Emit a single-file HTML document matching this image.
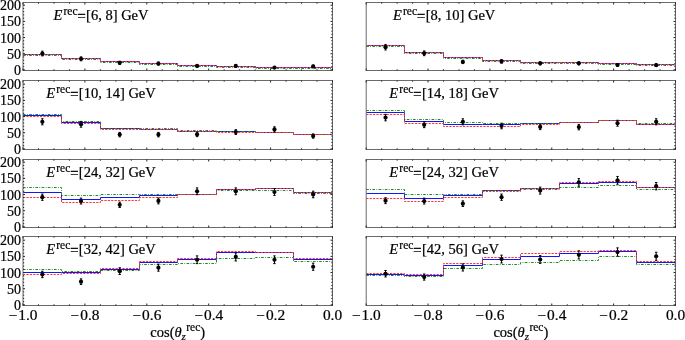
<!DOCTYPE html>
<html><head><meta charset="utf-8"><style>
html,body{margin:0;padding:0;background:#fff;width:685px;height:340px;overflow:hidden}
svg text{font-family:"Liberation Serif",serif;fill:#000;stroke:#000;stroke-width:0.22px}
svg{will-change:transform}
</style></head><body><svg width="685" height="340" viewBox="0 0 685 340" style="display:block;font-family:'Liberation Serif',serif"><path d="M23,54.5H61.5V58.5H100.5V61.5H139.5V63.5H177.5V65.5H216.5V66.5H255.5V67.5H293.5V67.5H332.5" fill="none" stroke="#1414ff" stroke-width="1"/><path d="M23,55.5H61.5V59.5H100.5V62.5H139.5V64.5H177.5V66.5H216.5V67.5H255.5V68.5H293.5V68.5H332.5" fill="none" stroke="#1e8c1e" stroke-width="1" stroke-dasharray="2.6,1.4,0.8,1.4"/><path d="M23,54.5H61.5V58.5H100.5V61.5H139.5V63.5H177.5V65.5H216.5V66.5H255.5V67.5H293.5V67.5H332.5" fill="none" stroke="#ff3535" stroke-width="1" stroke-dasharray="2.2,1.2"/><path d="M42.34,51.19V55.88M41.14,51.19H43.54M41.14,55.88H43.54" stroke="#000" stroke-width="1" fill="none"/><circle cx="42.34" cy="53.53" r="2.1" fill="#000"/><path d="M81.03,56.9V60.79M79.83,56.9H82.23M79.83,60.79H82.23" stroke="#000" stroke-width="1" fill="none"/><circle cx="81.03" cy="58.84" r="2.1" fill="#000"/><path d="M119.72,61.29V64.43M118.52,61.29H120.92M118.52,64.43H120.92" stroke="#000" stroke-width="1" fill="none"/><circle cx="119.72" cy="62.86" r="2.1" fill="#000"/><path d="M158.41,62.07V65.07M157.21,62.07H159.61M157.21,65.07H159.61" stroke="#000" stroke-width="1" fill="none"/><circle cx="158.41" cy="63.57" r="2.1" fill="#000"/><path d="M197.09,64.76V67.18M195.89,64.76H198.29M195.89,67.18H198.29" stroke="#000" stroke-width="1" fill="none"/><circle cx="197.09" cy="65.97" r="2.1" fill="#000"/><path d="M235.78,64.76V67.18M234.58,64.76H236.98M234.58,67.18H236.98" stroke="#000" stroke-width="1" fill="none"/><circle cx="235.78" cy="65.97" r="2.1" fill="#000"/><path d="M274.47,66.61V68.56M273.27,66.61H275.67M273.27,68.56H275.67" stroke="#000" stroke-width="1" fill="none"/><circle cx="274.47" cy="67.59" r="2.1" fill="#000"/><path d="M313.16,65.23V67.54M311.96,65.23H314.36M311.96,67.54H314.36" stroke="#000" stroke-width="1" fill="none"/><circle cx="313.16" cy="66.39" r="2.1" fill="#000"/><rect x="23" y="2.5" width="309.5" height="68" fill="none" stroke="#6a6a6a" stroke-width="1"/><path d="M23,69.9h2M332.5,69.9h-2M23,66.67h1.2M332.5,66.67h-1.2M23,63.43h1.2M332.5,63.43h-1.2M23,60.2h1.2M332.5,60.2h-1.2M23,56.96h1.2M332.5,56.96h-1.2M23,53.73h2M332.5,53.73h-2M23,50.49h1.2M332.5,50.49h-1.2M23,47.26h1.2M332.5,47.26h-1.2M23,44.02h1.2M332.5,44.02h-1.2M23,40.79h1.2M332.5,40.79h-1.2M23,37.55h2M332.5,37.55h-2M23,34.32h1.2M332.5,34.32h-1.2M23,31.08h1.2M332.5,31.08h-1.2M23,27.85h1.2M332.5,27.85h-1.2M23,24.61h1.2M332.5,24.61h-1.2M23,21.38h2M332.5,21.38h-2M23,18.14h1.2M332.5,18.14h-1.2M23,14.91h1.2M332.5,14.91h-1.2M23,11.67h1.2M332.5,11.67h-1.2M23,8.44h1.2M332.5,8.44h-1.2M23,5.2h2M332.5,5.2h-2M23,70.5v-2M23,2.5v2M38.48,70.5v-1.2M38.48,2.5v1.2M53.95,70.5v-1.2M53.95,2.5v1.2M69.43,70.5v-1.2M69.43,2.5v1.2M84.9,70.5v-2M84.9,2.5v2M100.38,70.5v-1.2M100.38,2.5v1.2M115.85,70.5v-1.2M115.85,2.5v1.2M131.33,70.5v-1.2M131.33,2.5v1.2M146.8,70.5v-2M146.8,2.5v2M162.27,70.5v-1.2M162.27,2.5v1.2M177.75,70.5v-1.2M177.75,2.5v1.2M193.23,70.5v-1.2M193.23,2.5v1.2M208.7,70.5v-2M208.7,2.5v2M224.18,70.5v-1.2M224.18,2.5v1.2M239.65,70.5v-1.2M239.65,2.5v1.2M255.12,70.5v-1.2M255.12,2.5v1.2M270.6,70.5v-2M270.6,2.5v2M286.08,70.5v-1.2M286.08,2.5v1.2M301.55,70.5v-1.2M301.55,2.5v1.2M317.03,70.5v-1.2M317.03,2.5v1.2M332.5,70.5v-2M332.5,2.5v2" stroke="#222" stroke-width="1" fill="none"/><text x="21" y="74.9" text-anchor="end" font-size="14">0</text><text x="21" y="58.73" text-anchor="end" font-size="14">50</text><text x="21" y="42.55" text-anchor="end" font-size="14">100</text><text x="21" y="26.38" text-anchor="end" font-size="14">150</text><text x="21" y="10.2" text-anchor="end" font-size="14">200</text><text x="100.97" y="19.9" text-anchor="middle" font-size="14.5"><tspan font-style="italic">E</tspan><tspan font-size="11.5" dy="-4.6" dx="1.2">rec</tspan><tspan dy="5.9" dx="-0.1" stroke-width="0.45">=</tspan><tspan dx="0.5" dy="-1.3">[6, 8] GeV</tspan></text><path d="M366.2,45.5H404.5V52.5H443.5V57.5H482.5V60.5H520.5V62.5H559.5V62.5H598.5V63.5H636.5V64.5H675.5" fill="none" stroke="#1414ff" stroke-width="1"/><path d="M366.2,46.5H404.5V53.5H443.5V58.5H482.5V61.5H520.5V63.5H559.5V63.5H598.5V64.5H636.5V65.5H675.5" fill="none" stroke="#1e8c1e" stroke-width="1" stroke-dasharray="2.6,1.4,0.8,1.4"/><path d="M366.2,45.5H404.5V52.5H443.5V57.5H482.5V60.5H520.5V62.5H559.5V62.5H598.5V63.5H636.5V64.5H675.5" fill="none" stroke="#ff3535" stroke-width="1" stroke-dasharray="2.2,1.2"/><path d="M385.53,44.44V49.93M384.33,44.44H386.73M384.33,49.93H386.73" stroke="#000" stroke-width="1" fill="none"/><circle cx="385.53" cy="47.19" r="2.1" fill="#000"/><path d="M424.19,50.95V55.67M422.99,50.95H425.39M422.99,55.67H425.39" stroke="#000" stroke-width="1" fill="none"/><circle cx="424.19" cy="53.31" r="2.1" fill="#000"/><path d="M462.86,60.25V63.59M461.66,60.25H464.06M461.66,63.59H464.06" stroke="#000" stroke-width="1" fill="none"/><circle cx="462.86" cy="61.92" r="2.1" fill="#000"/><path d="M501.52,59.72V63.15M500.32,59.72H502.72M500.32,63.15H502.72" stroke="#000" stroke-width="1" fill="none"/><circle cx="501.52" cy="61.43" r="2.1" fill="#000"/><path d="M540.18,61.79V64.84M538.98,61.79H541.38M538.98,64.84H541.38" stroke="#000" stroke-width="1" fill="none"/><circle cx="540.18" cy="63.31" r="2.1" fill="#000"/><path d="M578.84,61.79V64.84M577.64,61.79H580.04M577.64,64.84H580.04" stroke="#000" stroke-width="1" fill="none"/><circle cx="578.84" cy="63.31" r="2.1" fill="#000"/><path d="M617.51,63.66V66.33M616.31,63.66H618.71M616.31,66.33H618.71" stroke="#000" stroke-width="1" fill="none"/><circle cx="617.51" cy="65" r="2.1" fill="#000"/><path d="M656.17,63.88V66.5M654.97,63.88H657.37M654.97,66.5H657.37" stroke="#000" stroke-width="1" fill="none"/><circle cx="656.17" cy="65.19" r="2.1" fill="#000"/><rect x="366.2" y="2.5" width="309.3" height="68" fill="none" stroke="#6a6a6a" stroke-width="1"/><path d="M675.5,69.9h-2M675.5,66.67h-1.2M675.5,63.43h-1.2M675.5,60.2h-1.2M675.5,56.96h-1.2M675.5,53.73h-2M675.5,50.49h-1.2M675.5,47.26h-1.2M675.5,44.02h-1.2M675.5,40.79h-1.2M675.5,37.55h-2M675.5,34.32h-1.2M675.5,31.08h-1.2M675.5,27.85h-1.2M675.5,24.61h-1.2M675.5,21.38h-2M675.5,18.14h-1.2M675.5,14.91h-1.2M675.5,11.67h-1.2M675.5,8.44h-1.2M675.5,5.2h-2M366.2,70.5v-2M366.2,2.5v2M381.67,70.5v-1.2M381.67,2.5v1.2M397.13,70.5v-1.2M397.13,2.5v1.2M412.6,70.5v-1.2M412.6,2.5v1.2M428.06,70.5v-2M428.06,2.5v2M443.52,70.5v-1.2M443.52,2.5v1.2M458.99,70.5v-1.2M458.99,2.5v1.2M474.46,70.5v-1.2M474.46,2.5v1.2M489.92,70.5v-2M489.92,2.5v2M505.38,70.5v-1.2M505.38,2.5v1.2M520.85,70.5v-1.2M520.85,2.5v1.2M536.32,70.5v-1.2M536.32,2.5v1.2M551.78,70.5v-2M551.78,2.5v2M567.25,70.5v-1.2M567.25,2.5v1.2M582.71,70.5v-1.2M582.71,2.5v1.2M598.17,70.5v-1.2M598.17,2.5v1.2M613.64,70.5v-2M613.64,2.5v2M629.11,70.5v-1.2M629.11,2.5v1.2M644.57,70.5v-1.2M644.57,2.5v1.2M660.04,70.5v-1.2M660.04,2.5v1.2M675.5,70.5v-2M675.5,2.5v2" stroke="#222" stroke-width="1" fill="none"/><text x="444.12" y="19.9" text-anchor="middle" font-size="14.5"><tspan font-style="italic">E</tspan><tspan font-size="11.5" dy="-4.6" dx="1.2">rec</tspan><tspan dy="5.9" dx="-0.1" stroke-width="0.45">=</tspan><tspan dx="0.5" dy="-1.3">[8, 10] GeV</tspan></text><path d="M23,115.5H61.5V122.5H100.5V128.5H139.5V129.5H177.5V131.5H216.5V131.5H255.5V132.5H293.5V134.5H332.5" fill="none" stroke="#1414ff" stroke-width="1"/><path d="M23,114.5H61.5V121.5H100.5V128.5H139.5V128.5H177.5V130.5H216.5V131.5H255.5V132.5H293.5V134.5H332.5" fill="none" stroke="#1e8c1e" stroke-width="1" stroke-dasharray="2.6,1.4,0.8,1.4"/><path d="M23,116.5H61.5V123.5H100.5V129.5H139.5V129.5H177.5V131.5H216.5V132.5H255.5V132.5H293.5V134.5H332.5" fill="none" stroke="#ff3535" stroke-width="1" stroke-dasharray="2.2,1.2"/><path d="M42.34,118.78V124.82M41.14,118.78H43.54M41.14,124.82H43.54" stroke="#000" stroke-width="1" fill="none"/><circle cx="42.34" cy="121.8" r="2.1" fill="#000"/><path d="M81.03,121.42V127.18M79.83,121.42H82.23M79.83,127.18H82.23" stroke="#000" stroke-width="1" fill="none"/><circle cx="81.03" cy="124.3" r="2.1" fill="#000"/><path d="M119.72,132.4V136.83M118.52,132.4H120.92M118.52,136.83H120.92" stroke="#000" stroke-width="1" fill="none"/><circle cx="119.72" cy="134.62" r="2.1" fill="#000"/><path d="M158.41,132.4V136.83M157.21,132.4H159.61M157.21,136.83H159.61" stroke="#000" stroke-width="1" fill="none"/><circle cx="158.41" cy="134.62" r="2.1" fill="#000"/><path d="M197.09,132.16V136.61M195.89,132.16H198.29M195.89,136.61H198.29" stroke="#000" stroke-width="1" fill="none"/><circle cx="197.09" cy="134.39" r="2.1" fill="#000"/><path d="M235.78,129.69V134.48M234.58,129.69H236.98M234.58,134.48H236.98" stroke="#000" stroke-width="1" fill="none"/><circle cx="235.78" cy="132.09" r="2.1" fill="#000"/><path d="M274.47,126.82V131.96M273.27,126.82H275.67M273.27,131.96H275.67" stroke="#000" stroke-width="1" fill="none"/><circle cx="274.47" cy="129.39" r="2.1" fill="#000"/><path d="M313.16,133.92V138.13M311.96,133.92H314.36M311.96,138.13H314.36" stroke="#000" stroke-width="1" fill="none"/><circle cx="313.16" cy="136.03" r="2.1" fill="#000"/><rect x="23" y="80.5" width="309.5" height="69" fill="none" stroke="#6a6a6a" stroke-width="1"/><path d="M23,148.9h2M332.5,148.9h-2M23,145.66h1.2M332.5,145.66h-1.2M23,142.43h1.2M332.5,142.43h-1.2M23,139.19h1.2M332.5,139.19h-1.2M23,135.96h1.2M332.5,135.96h-1.2M23,132.72h2M332.5,132.72h-2M23,129.49h1.2M332.5,129.49h-1.2M23,126.26h1.2M332.5,126.26h-1.2M23,123.02h1.2M332.5,123.02h-1.2M23,119.78h1.2M332.5,119.78h-1.2M23,116.55h2M332.5,116.55h-2M23,113.31h1.2M332.5,113.31h-1.2M23,110.08h1.2M332.5,110.08h-1.2M23,106.84h1.2M332.5,106.84h-1.2M23,103.61h1.2M332.5,103.61h-1.2M23,100.38h2M332.5,100.38h-2M23,97.14h1.2M332.5,97.14h-1.2M23,93.91h1.2M332.5,93.91h-1.2M23,90.67h1.2M332.5,90.67h-1.2M23,87.44h1.2M332.5,87.44h-1.2M23,84.2h2M332.5,84.2h-2M23,149.5v-2M23,80.5v2M38.48,149.5v-1.2M38.48,80.5v1.2M53.95,149.5v-1.2M53.95,80.5v1.2M69.43,149.5v-1.2M69.43,80.5v1.2M84.9,149.5v-2M84.9,80.5v2M100.38,149.5v-1.2M100.38,80.5v1.2M115.85,149.5v-1.2M115.85,80.5v1.2M131.33,149.5v-1.2M131.33,80.5v1.2M146.8,149.5v-2M146.8,80.5v2M162.27,149.5v-1.2M162.27,80.5v1.2M177.75,149.5v-1.2M177.75,80.5v1.2M193.23,149.5v-1.2M193.23,80.5v1.2M208.7,149.5v-2M208.7,80.5v2M224.18,149.5v-1.2M224.18,80.5v1.2M239.65,149.5v-1.2M239.65,80.5v1.2M255.12,149.5v-1.2M255.12,80.5v1.2M270.6,149.5v-2M270.6,80.5v2M286.08,149.5v-1.2M286.08,80.5v1.2M301.55,149.5v-1.2M301.55,80.5v1.2M317.03,149.5v-1.2M317.03,80.5v1.2M332.5,149.5v-2M332.5,80.5v2" stroke="#222" stroke-width="1" fill="none"/><text x="21" y="153.9" text-anchor="end" font-size="14">0</text><text x="21" y="137.72" text-anchor="end" font-size="14">50</text><text x="21" y="121.55" text-anchor="end" font-size="14">100</text><text x="21" y="105.38" text-anchor="end" font-size="14">150</text><text x="21" y="89.2" text-anchor="end" font-size="14">200</text><text x="100.97" y="97.9" text-anchor="middle" font-size="14.5"><tspan font-style="italic">E</tspan><tspan font-size="11.5" dy="-4.6" dx="1.2">rec</tspan><tspan dy="5.9" dx="-0.1" stroke-width="0.45">=</tspan><tspan dx="0.5" dy="-1.3">[10, 14] GeV</tspan></text><path d="M366.2,112.5H404.5V121.5H443.5V124.5H482.5V124.5H520.5V123.5H559.5V122.5H598.5V120.5H636.5V124.5H675.5" fill="none" stroke="#1414ff" stroke-width="1"/><path d="M366.2,110.5H404.5V119.5H443.5V122.5H482.5V123.5H520.5V123.5H559.5V122.5H598.5V120.5H636.5V123.5H675.5" fill="none" stroke="#1e8c1e" stroke-width="1" stroke-dasharray="2.6,1.4,0.8,1.4"/><path d="M366.2,114.5H404.5V123.5H443.5V126.5H482.5V126.5H520.5V124.5H559.5V122.5H598.5V120.5H636.5V124.5H675.5" fill="none" stroke="#ff3535" stroke-width="1" stroke-dasharray="2.2,1.2"/><path d="M385.53,114.36V120.83M384.33,114.36H386.73M384.33,120.83H386.73" stroke="#000" stroke-width="1" fill="none"/><circle cx="385.53" cy="117.6" r="2.1" fill="#000"/><path d="M424.19,121.94V127.64M422.99,121.94H425.39M422.99,127.64H425.39" stroke="#000" stroke-width="1" fill="none"/><circle cx="424.19" cy="124.79" r="2.1" fill="#000"/><path d="M462.86,118.78V124.82M461.66,118.78H464.06M461.66,124.82H464.06" stroke="#000" stroke-width="1" fill="none"/><circle cx="462.86" cy="121.8" r="2.1" fill="#000"/><path d="M501.52,123.23V128.79M500.32,123.23H502.72M500.32,128.79H502.72" stroke="#000" stroke-width="1" fill="none"/><circle cx="501.52" cy="126.01" r="2.1" fill="#000"/><path d="M540.18,124.17V129.62M538.98,124.17H541.38M538.98,129.62H541.38" stroke="#000" stroke-width="1" fill="none"/><circle cx="540.18" cy="126.89" r="2.1" fill="#000"/><path d="M578.84,124.38V129.8M577.64,124.38H580.04M577.64,129.8H580.04" stroke="#000" stroke-width="1" fill="none"/><circle cx="578.84" cy="127.09" r="2.1" fill="#000"/><path d="M617.51,120.28V126.15M616.31,120.28H618.71M616.31,126.15H618.71" stroke="#000" stroke-width="1" fill="none"/><circle cx="617.51" cy="123.21" r="2.1" fill="#000"/><path d="M656.17,118.78V124.82M654.97,118.78H657.37M654.97,124.82H657.37" stroke="#000" stroke-width="1" fill="none"/><circle cx="656.17" cy="121.8" r="2.1" fill="#000"/><rect x="366.2" y="80.5" width="309.3" height="69" fill="none" stroke="#6a6a6a" stroke-width="1"/><path d="M675.5,148.9h-2M675.5,145.66h-1.2M675.5,142.43h-1.2M675.5,139.19h-1.2M675.5,135.96h-1.2M675.5,132.72h-2M675.5,129.49h-1.2M675.5,126.26h-1.2M675.5,123.02h-1.2M675.5,119.78h-1.2M675.5,116.55h-2M675.5,113.31h-1.2M675.5,110.08h-1.2M675.5,106.84h-1.2M675.5,103.61h-1.2M675.5,100.38h-2M675.5,97.14h-1.2M675.5,93.91h-1.2M675.5,90.67h-1.2M675.5,87.44h-1.2M675.5,84.2h-2M366.2,149.5v-2M366.2,80.5v2M381.67,149.5v-1.2M381.67,80.5v1.2M397.13,149.5v-1.2M397.13,80.5v1.2M412.6,149.5v-1.2M412.6,80.5v1.2M428.06,149.5v-2M428.06,80.5v2M443.52,149.5v-1.2M443.52,80.5v1.2M458.99,149.5v-1.2M458.99,80.5v1.2M474.46,149.5v-1.2M474.46,80.5v1.2M489.92,149.5v-2M489.92,80.5v2M505.38,149.5v-1.2M505.38,80.5v1.2M520.85,149.5v-1.2M520.85,80.5v1.2M536.32,149.5v-1.2M536.32,80.5v1.2M551.78,149.5v-2M551.78,80.5v2M567.25,149.5v-1.2M567.25,80.5v1.2M582.71,149.5v-1.2M582.71,80.5v1.2M598.17,149.5v-1.2M598.17,80.5v1.2M613.64,149.5v-2M613.64,80.5v2M629.11,149.5v-1.2M629.11,80.5v1.2M644.57,149.5v-1.2M644.57,80.5v1.2M660.04,149.5v-1.2M660.04,80.5v1.2M675.5,149.5v-2M675.5,80.5v2" stroke="#222" stroke-width="1" fill="none"/><text x="444.12" y="97.9" text-anchor="middle" font-size="14.5"><tspan font-style="italic">E</tspan><tspan font-size="11.5" dy="-4.6" dx="1.2">rec</tspan><tspan dy="5.9" dx="-0.1" stroke-width="0.45">=</tspan><tspan dx="0.5" dy="-1.3">[14, 18] GeV</tspan></text><path d="M23,192.5H61.5V199.5H100.5V197.5H139.5V195.5H177.5V194.5H216.5V189.5H255.5V188.5H293.5V192.5H332.5" fill="none" stroke="#1414ff" stroke-width="1"/><path d="M23,187.5H61.5V195.5H100.5V194.5H139.5V194.5H177.5V194.5H216.5V190.5H255.5V190.5H293.5V193.5H332.5" fill="none" stroke="#1e8c1e" stroke-width="1" stroke-dasharray="2.6,1.4,0.8,1.4"/><path d="M23,197.5H61.5V202.5H100.5V200.5H139.5V197.5H177.5V194.5H216.5V189.5H255.5V188.5H293.5V192.5H332.5" fill="none" stroke="#ff3535" stroke-width="1" stroke-dasharray="2.2,1.2"/><path d="M42.34,194.06V200.32M41.14,194.06H43.54M41.14,200.32H43.54" stroke="#000" stroke-width="1" fill="none"/><circle cx="42.34" cy="197.19" r="2.1" fill="#000"/><path d="M81.03,198.15V204M79.83,198.15H82.23M79.83,204H82.23" stroke="#000" stroke-width="1" fill="none"/><circle cx="81.03" cy="201.08" r="2.1" fill="#000"/><path d="M119.72,202.12V207.54M118.52,202.12H120.92M118.52,207.54H120.92" stroke="#000" stroke-width="1" fill="none"/><circle cx="119.72" cy="204.83" r="2.1" fill="#000"/><path d="M158.41,198.02V203.88M157.21,198.02H159.61M157.21,203.88H159.61" stroke="#000" stroke-width="1" fill="none"/><circle cx="158.41" cy="200.95" r="2.1" fill="#000"/><path d="M197.09,187.87V194.72M195.89,187.87H198.29M195.89,194.72H198.29" stroke="#000" stroke-width="1" fill="none"/><circle cx="197.09" cy="191.3" r="2.1" fill="#000"/><path d="M235.78,187.87V194.72M234.58,187.87H236.98M234.58,194.72H236.98" stroke="#000" stroke-width="1" fill="none"/><circle cx="235.78" cy="191.3" r="2.1" fill="#000"/><path d="M274.47,188.62V195.4M273.27,188.62H275.67M273.27,195.4H275.67" stroke="#000" stroke-width="1" fill="none"/><circle cx="274.47" cy="192.01" r="2.1" fill="#000"/><path d="M313.16,191.2V197.74M311.96,191.2H314.36M311.96,197.74H314.36" stroke="#000" stroke-width="1" fill="none"/><circle cx="313.16" cy="194.47" r="2.1" fill="#000"/><rect x="23" y="159.5" width="309.5" height="68" fill="none" stroke="#6a6a6a" stroke-width="1"/><path d="M23,226.9h2M332.5,226.9h-2M23,223.66h1.2M332.5,223.66h-1.2M23,220.43h1.2M332.5,220.43h-1.2M23,217.19h1.2M332.5,217.19h-1.2M23,213.96h1.2M332.5,213.96h-1.2M23,210.72h2M332.5,210.72h-2M23,207.49h1.2M332.5,207.49h-1.2M23,204.25h1.2M332.5,204.25h-1.2M23,201.02h1.2M332.5,201.02h-1.2M23,197.78h1.2M332.5,197.78h-1.2M23,194.55h2M332.5,194.55h-2M23,191.31h1.2M332.5,191.31h-1.2M23,188.08h1.2M332.5,188.08h-1.2M23,184.84h1.2M332.5,184.84h-1.2M23,181.61h1.2M332.5,181.61h-1.2M23,178.38h2M332.5,178.38h-2M23,175.14h1.2M332.5,175.14h-1.2M23,171.91h1.2M332.5,171.91h-1.2M23,168.67h1.2M332.5,168.67h-1.2M23,165.44h1.2M332.5,165.44h-1.2M23,162.2h2M332.5,162.2h-2M23,227.5v-2M23,159.5v2M38.48,227.5v-1.2M38.48,159.5v1.2M53.95,227.5v-1.2M53.95,159.5v1.2M69.43,227.5v-1.2M69.43,159.5v1.2M84.9,227.5v-2M84.9,159.5v2M100.38,227.5v-1.2M100.38,159.5v1.2M115.85,227.5v-1.2M115.85,159.5v1.2M131.33,227.5v-1.2M131.33,159.5v1.2M146.8,227.5v-2M146.8,159.5v2M162.27,227.5v-1.2M162.27,159.5v1.2M177.75,227.5v-1.2M177.75,159.5v1.2M193.23,227.5v-1.2M193.23,159.5v1.2M208.7,227.5v-2M208.7,159.5v2M224.18,227.5v-1.2M224.18,159.5v1.2M239.65,227.5v-1.2M239.65,159.5v1.2M255.12,227.5v-1.2M255.12,159.5v1.2M270.6,227.5v-2M270.6,159.5v2M286.08,227.5v-1.2M286.08,159.5v1.2M301.55,227.5v-1.2M301.55,159.5v1.2M317.03,227.5v-1.2M317.03,159.5v1.2M332.5,227.5v-2M332.5,159.5v2" stroke="#222" stroke-width="1" fill="none"/><text x="21" y="231.9" text-anchor="end" font-size="14">0</text><text x="21" y="215.72" text-anchor="end" font-size="14">50</text><text x="21" y="199.55" text-anchor="end" font-size="14">100</text><text x="21" y="183.38" text-anchor="end" font-size="14">150</text><text x="21" y="167.2" text-anchor="end" font-size="14">200</text><text x="100.97" y="176.9" text-anchor="middle" font-size="14.5"><tspan font-style="italic">E</tspan><tspan font-size="11.5" dy="-4.6" dx="1.2">rec</tspan><tspan dy="5.9" dx="-0.1" stroke-width="0.45">=</tspan><tspan dx="0.5" dy="-1.3">[24, 32] GeV</tspan></text><path d="M366.2,193.5H404.5V198.5H443.5V195.5H482.5V190.5H520.5V188.5H559.5V183.5H598.5V182.5H636.5V187.5H675.5" fill="none" stroke="#1414ff" stroke-width="1"/><path d="M366.2,189.5H404.5V194.5H443.5V194.5H482.5V190.5H520.5V189.5H559.5V187.5H598.5V185.5H636.5V189.5H675.5" fill="none" stroke="#1e8c1e" stroke-width="1" stroke-dasharray="2.6,1.4,0.8,1.4"/><path d="M366.2,198.5H404.5V201.5H443.5V197.5H482.5V191.5H520.5V188.5H559.5V182.5H598.5V181.5H636.5V187.5H675.5" fill="none" stroke="#ff3535" stroke-width="1" stroke-dasharray="2.2,1.2"/><path d="M385.53,197.74V203.64M384.33,197.74H386.73M384.33,203.64H386.73" stroke="#000" stroke-width="1" fill="none"/><circle cx="385.53" cy="200.69" r="2.1" fill="#000"/><path d="M424.19,198.15V204M422.99,198.15H425.39M422.99,204H425.39" stroke="#000" stroke-width="1" fill="none"/><circle cx="424.19" cy="201.08" r="2.1" fill="#000"/><path d="M462.86,200.89V206.45M461.66,200.89H464.06M461.66,206.45H464.06" stroke="#000" stroke-width="1" fill="none"/><circle cx="462.86" cy="203.67" r="2.1" fill="#000"/><path d="M501.52,194.06V200.32M500.32,194.06H502.72M500.32,200.32H502.72" stroke="#000" stroke-width="1" fill="none"/><circle cx="501.52" cy="197.19" r="2.1" fill="#000"/><path d="M540.18,187.16V194.07M538.98,187.16H541.38M538.98,194.07H541.38" stroke="#000" stroke-width="1" fill="none"/><circle cx="540.18" cy="190.62" r="2.1" fill="#000"/><path d="M578.84,178.61V186.25M577.64,178.61H580.04M577.64,186.25H580.04" stroke="#000" stroke-width="1" fill="none"/><circle cx="578.84" cy="182.43" r="2.1" fill="#000"/><path d="M617.51,176.45V184.26M616.31,176.45H618.71M616.31,184.26H618.71" stroke="#000" stroke-width="1" fill="none"/><circle cx="617.51" cy="180.35" r="2.1" fill="#000"/><path d="M656.17,182.56V189.87M654.97,182.56H657.37M654.97,189.87H657.37" stroke="#000" stroke-width="1" fill="none"/><circle cx="656.17" cy="186.21" r="2.1" fill="#000"/><rect x="366.2" y="159.5" width="309.3" height="68" fill="none" stroke="#6a6a6a" stroke-width="1"/><path d="M675.5,226.9h-2M675.5,223.66h-1.2M675.5,220.43h-1.2M675.5,217.19h-1.2M675.5,213.96h-1.2M675.5,210.72h-2M675.5,207.49h-1.2M675.5,204.25h-1.2M675.5,201.02h-1.2M675.5,197.78h-1.2M675.5,194.55h-2M675.5,191.31h-1.2M675.5,188.08h-1.2M675.5,184.84h-1.2M675.5,181.61h-1.2M675.5,178.38h-2M675.5,175.14h-1.2M675.5,171.91h-1.2M675.5,168.67h-1.2M675.5,165.44h-1.2M675.5,162.2h-2M366.2,227.5v-2M366.2,159.5v2M381.67,227.5v-1.2M381.67,159.5v1.2M397.13,227.5v-1.2M397.13,159.5v1.2M412.6,227.5v-1.2M412.6,159.5v1.2M428.06,227.5v-2M428.06,159.5v2M443.52,227.5v-1.2M443.52,159.5v1.2M458.99,227.5v-1.2M458.99,159.5v1.2M474.46,227.5v-1.2M474.46,159.5v1.2M489.92,227.5v-2M489.92,159.5v2M505.38,227.5v-1.2M505.38,159.5v1.2M520.85,227.5v-1.2M520.85,159.5v1.2M536.32,227.5v-1.2M536.32,159.5v1.2M551.78,227.5v-2M551.78,159.5v2M567.25,227.5v-1.2M567.25,159.5v1.2M582.71,227.5v-1.2M582.71,159.5v1.2M598.17,227.5v-1.2M598.17,159.5v1.2M613.64,227.5v-2M613.64,159.5v2M629.11,227.5v-1.2M629.11,159.5v1.2M644.57,227.5v-1.2M644.57,159.5v1.2M660.04,227.5v-1.2M660.04,159.5v1.2M675.5,227.5v-2M675.5,159.5v2" stroke="#222" stroke-width="1" fill="none"/><text x="444.12" y="176.9" text-anchor="middle" font-size="14.5"><tspan font-style="italic">E</tspan><tspan font-size="11.5" dy="-4.6" dx="1.2">rec</tspan><tspan dy="5.9" dx="-0.1" stroke-width="0.45">=</tspan><tspan dx="0.5" dy="-1.3">[24, 32] GeV</tspan></text><path d="M23,272.5H61.5V272.5H100.5V269.5H139.5V262.5H177.5V259.5H216.5V252.5H255.5V252.5H293.5V259.5H332.5" fill="none" stroke="#1414ff" stroke-width="1"/><path d="M23,269.5H61.5V271.5H100.5V270.5H139.5V264.5H177.5V263.5H216.5V258.5H255.5V257.5H293.5V261.5H332.5" fill="none" stroke="#1e8c1e" stroke-width="1" stroke-dasharray="2.6,1.4,0.8,1.4"/><path d="M23,274.5H61.5V273.5H100.5V268.5H139.5V261.5H177.5V258.5H216.5V251.5H255.5V252.5H293.5V258.5H332.5" fill="none" stroke="#ff3535" stroke-width="1" stroke-dasharray="2.2,1.2"/><path d="M42.34,271.26V277.64M41.14,271.26H43.54M41.14,277.64H43.54" stroke="#000" stroke-width="1" fill="none"/><circle cx="42.34" cy="274.45" r="2.1" fill="#000"/><path d="M81.03,278.85V284.45M79.83,278.85H82.23M79.83,284.45H82.23" stroke="#000" stroke-width="1" fill="none"/><circle cx="81.03" cy="281.65" r="2.1" fill="#000"/><path d="M119.72,267.77V274.49M118.52,267.77H120.92M118.52,274.49H120.92" stroke="#000" stroke-width="1" fill="none"/><circle cx="119.72" cy="271.13" r="2.1" fill="#000"/><path d="M158.41,264.12V271.18M157.21,264.12H159.61M157.21,271.18H159.61" stroke="#000" stroke-width="1" fill="none"/><circle cx="158.41" cy="267.65" r="2.1" fill="#000"/><path d="M197.09,255.89V263.64M195.89,255.89H198.29M195.89,263.64H198.29" stroke="#000" stroke-width="1" fill="none"/><circle cx="197.09" cy="259.76" r="2.1" fill="#000"/><path d="M235.78,252.98V260.96M234.58,252.98H236.98M234.58,260.96H236.98" stroke="#000" stroke-width="1" fill="none"/><circle cx="235.78" cy="256.97" r="2.1" fill="#000"/><path d="M274.47,255.89V263.64M273.27,255.89H275.67M273.27,263.64H275.67" stroke="#000" stroke-width="1" fill="none"/><circle cx="274.47" cy="259.76" r="2.1" fill="#000"/><path d="M313.16,263.16V270.3M311.96,263.16H314.36M311.96,270.3H314.36" stroke="#000" stroke-width="1" fill="none"/><circle cx="313.16" cy="266.73" r="2.1" fill="#000"/><rect x="23" y="236.5" width="309.5" height="69" fill="none" stroke="#6a6a6a" stroke-width="1"/><path d="M23,304.9h2M332.5,304.9h-2M23,301.66h1.2M332.5,301.66h-1.2M23,298.43h1.2M332.5,298.43h-1.2M23,295.19h1.2M332.5,295.19h-1.2M23,291.96h1.2M332.5,291.96h-1.2M23,288.72h2M332.5,288.72h-2M23,285.49h1.2M332.5,285.49h-1.2M23,282.25h1.2M332.5,282.25h-1.2M23,279.02h1.2M332.5,279.02h-1.2M23,275.78h1.2M332.5,275.78h-1.2M23,272.55h2M332.5,272.55h-2M23,269.31h1.2M332.5,269.31h-1.2M23,266.08h1.2M332.5,266.08h-1.2M23,262.84h1.2M332.5,262.84h-1.2M23,259.61h1.2M332.5,259.61h-1.2M23,256.38h2M332.5,256.38h-2M23,253.14h1.2M332.5,253.14h-1.2M23,249.9h1.2M332.5,249.9h-1.2M23,246.67h1.2M332.5,246.67h-1.2M23,243.43h1.2M332.5,243.43h-1.2M23,240.2h2M332.5,240.2h-2M23,305.5v-2M23,236.5v2M38.48,305.5v-1.2M38.48,236.5v1.2M53.95,305.5v-1.2M53.95,236.5v1.2M69.43,305.5v-1.2M69.43,236.5v1.2M84.9,305.5v-2M84.9,236.5v2M100.38,305.5v-1.2M100.38,236.5v1.2M115.85,305.5v-1.2M115.85,236.5v1.2M131.33,305.5v-1.2M131.33,236.5v1.2M146.8,305.5v-2M146.8,236.5v2M162.27,305.5v-1.2M162.27,236.5v1.2M177.75,305.5v-1.2M177.75,236.5v1.2M193.23,305.5v-1.2M193.23,236.5v1.2M208.7,305.5v-2M208.7,236.5v2M224.18,305.5v-1.2M224.18,236.5v1.2M239.65,305.5v-1.2M239.65,236.5v1.2M255.12,305.5v-1.2M255.12,236.5v1.2M270.6,305.5v-2M270.6,236.5v2M286.08,305.5v-1.2M286.08,236.5v1.2M301.55,305.5v-1.2M301.55,236.5v1.2M317.03,305.5v-1.2M317.03,236.5v1.2M332.5,305.5v-2M332.5,236.5v2" stroke="#222" stroke-width="1" fill="none"/><text x="21" y="309.9" text-anchor="end" font-size="14">0</text><text x="21" y="293.72" text-anchor="end" font-size="14">50</text><text x="21" y="277.55" text-anchor="end" font-size="14">100</text><text x="21" y="261.38" text-anchor="end" font-size="14">150</text><text x="21" y="245.2" text-anchor="end" font-size="14">200</text><text transform="translate(23,319.5) scale(1.07,1)" text-anchor="middle" font-size="14.4">−<tspan dx="1.1">1.0</tspan></text><text transform="translate(84.9,319.5) scale(1.07,1)" text-anchor="middle" font-size="14.4">−<tspan dx="1.1">0.8</tspan></text><text transform="translate(146.8,319.5) scale(1.07,1)" text-anchor="middle" font-size="14.4">−<tspan dx="1.1">0.6</tspan></text><text transform="translate(208.7,319.5) scale(1.07,1)" text-anchor="middle" font-size="14.4">−<tspan dx="1.1">0.4</tspan></text><text transform="translate(270.6,319.5) scale(1.07,1)" text-anchor="middle" font-size="14.4">−<tspan dx="1.1">0.2</tspan></text><text transform="translate(332.5,319.5) scale(1.07,1)" text-anchor="middle" font-size="14.4">0.0</text><text x="100.97" y="253.9" text-anchor="middle" font-size="14.5"><tspan font-style="italic">E</tspan><tspan font-size="11.5" dy="-4.6" dx="1.2">rec</tspan><tspan dy="5.9" dx="-0.1" stroke-width="0.45">=</tspan><tspan dx="0.5" dy="-1.3">[32, 42] GeV</tspan></text><path d="M366.2,274.5H404.5V275.5H443.5V265.5H482.5V259.5H520.5V256.5H559.5V253.5H598.5V251.5H636.5V262.5H675.5" fill="none" stroke="#1414ff" stroke-width="1"/><path d="M366.2,275.5H404.5V276.5H443.5V268.5H482.5V264.5H520.5V262.5H559.5V260.5H598.5V256.5H636.5V264.5H675.5" fill="none" stroke="#1e8c1e" stroke-width="1" stroke-dasharray="2.6,1.4,0.8,1.4"/><path d="M366.2,273.5H404.5V274.5H443.5V263.5H482.5V257.5H520.5V253.5H559.5V251.5H598.5V250.5H636.5V261.5H675.5" fill="none" stroke="#ff3535" stroke-width="1" stroke-dasharray="2.2,1.2"/><path d="M385.53,270.5V276.96M384.33,270.5H386.73M384.33,276.96H386.73" stroke="#000" stroke-width="1" fill="none"/><circle cx="385.53" cy="273.73" r="2.1" fill="#000"/><path d="M424.19,273.99V280.1M422.99,273.99H425.39M422.99,280.1H425.39" stroke="#000" stroke-width="1" fill="none"/><circle cx="424.19" cy="277.05" r="2.1" fill="#000"/><path d="M462.86,263.92V270.99M461.66,263.92H464.06M461.66,270.99H464.06" stroke="#000" stroke-width="1" fill="none"/><circle cx="462.86" cy="267.45" r="2.1" fill="#000"/><path d="M501.52,255.17V262.98M500.32,255.17H502.72M500.32,262.98H502.72" stroke="#000" stroke-width="1" fill="none"/><circle cx="501.52" cy="259.07" r="2.1" fill="#000"/><path d="M540.18,255.61V263.39M538.98,255.61H541.38M538.98,263.39H541.38" stroke="#000" stroke-width="1" fill="none"/><circle cx="540.18" cy="259.5" r="2.1" fill="#000"/><path d="M578.84,250.79V258.95M577.64,250.79H580.04M577.64,258.95H580.04" stroke="#000" stroke-width="1" fill="none"/><circle cx="578.84" cy="254.87" r="2.1" fill="#000"/><path d="M617.51,247.88V256.26M616.31,247.88H618.71M616.31,256.26H618.71" stroke="#000" stroke-width="1" fill="none"/><circle cx="617.51" cy="252.07" r="2.1" fill="#000"/><path d="M656.17,252.26V260.3M654.97,252.26H657.37M654.97,260.3H657.37" stroke="#000" stroke-width="1" fill="none"/><circle cx="656.17" cy="256.28" r="2.1" fill="#000"/><rect x="366.2" y="236.5" width="309.3" height="69" fill="none" stroke="#6a6a6a" stroke-width="1"/><path d="M675.5,304.9h-2M675.5,301.66h-1.2M675.5,298.43h-1.2M675.5,295.19h-1.2M675.5,291.96h-1.2M675.5,288.72h-2M675.5,285.49h-1.2M675.5,282.25h-1.2M675.5,279.02h-1.2M675.5,275.78h-1.2M675.5,272.55h-2M675.5,269.31h-1.2M675.5,266.08h-1.2M675.5,262.84h-1.2M675.5,259.61h-1.2M675.5,256.38h-2M675.5,253.14h-1.2M675.5,249.9h-1.2M675.5,246.67h-1.2M675.5,243.43h-1.2M675.5,240.2h-2M366.2,305.5v-2M366.2,236.5v2M381.67,305.5v-1.2M381.67,236.5v1.2M397.13,305.5v-1.2M397.13,236.5v1.2M412.6,305.5v-1.2M412.6,236.5v1.2M428.06,305.5v-2M428.06,236.5v2M443.52,305.5v-1.2M443.52,236.5v1.2M458.99,305.5v-1.2M458.99,236.5v1.2M474.46,305.5v-1.2M474.46,236.5v1.2M489.92,305.5v-2M489.92,236.5v2M505.38,305.5v-1.2M505.38,236.5v1.2M520.85,305.5v-1.2M520.85,236.5v1.2M536.32,305.5v-1.2M536.32,236.5v1.2M551.78,305.5v-2M551.78,236.5v2M567.25,305.5v-1.2M567.25,236.5v1.2M582.71,305.5v-1.2M582.71,236.5v1.2M598.17,305.5v-1.2M598.17,236.5v1.2M613.64,305.5v-2M613.64,236.5v2M629.11,305.5v-1.2M629.11,236.5v1.2M644.57,305.5v-1.2M644.57,236.5v1.2M660.04,305.5v-1.2M660.04,236.5v1.2M675.5,305.5v-2M675.5,236.5v2" stroke="#222" stroke-width="1" fill="none"/><text transform="translate(366.2,319.5) scale(1.07,1)" text-anchor="middle" font-size="14.4">−<tspan dx="1.1">1.0</tspan></text><text transform="translate(428.06,319.5) scale(1.07,1)" text-anchor="middle" font-size="14.4">−<tspan dx="1.1">0.8</tspan></text><text transform="translate(489.92,319.5) scale(1.07,1)" text-anchor="middle" font-size="14.4">−<tspan dx="1.1">0.6</tspan></text><text transform="translate(551.78,319.5) scale(1.07,1)" text-anchor="middle" font-size="14.4">−<tspan dx="1.1">0.4</tspan></text><text transform="translate(613.64,319.5) scale(1.07,1)" text-anchor="middle" font-size="14.4">−<tspan dx="1.1">0.2</tspan></text><text transform="translate(675.5,319.5) scale(1.07,1)" text-anchor="middle" font-size="14.4">0.0</text><text x="444.12" y="253.9" text-anchor="middle" font-size="14.5"><tspan font-style="italic">E</tspan><tspan font-size="11.5" dy="-4.6" dx="1.2">rec</tspan><tspan dy="5.9" dx="-0.1" stroke-width="0.45">=</tspan><tspan dx="0.5" dy="-1.3">[42, 56] GeV</tspan></text><text x="177.75" y="336.6" text-anchor="middle" font-size="14.5">cos(<tspan font-style="italic">θ</tspan><tspan font-style="italic" font-size="11" dy="3">z</tspan><tspan font-size="11.5" dy="-9" dx="0.4">rec</tspan><tspan dy="6">)</tspan></text><text x="520.85" y="336.6" text-anchor="middle" font-size="14.5">cos(<tspan font-style="italic">θ</tspan><tspan font-style="italic" font-size="11" dy="3">z</tspan><tspan font-size="11.5" dy="-9" dx="0.4">rec</tspan><tspan dy="6">)</tspan></text></svg></body></html>
